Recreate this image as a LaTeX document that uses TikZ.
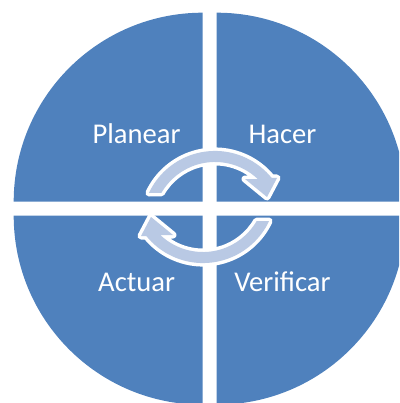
\documentclass[tikz,border=0pt]{standalone}
\usepackage{fontspec}
\setmainfont{Carlito}
\definecolor{quadblue}{RGB}{79,129,189}
\definecolor{arrowfill}{RGB}{185,201,228}
% curved cycle arrow (upper one); the lower one is the same shape turned half a turn
\newcommand{\cyclearrowshape}{%
  (148.9,193) arc[start angle=-154.9, end angle=-39.1, radius=73]
  -- (277,178) -- (267,197) -- (245,179) -- (257.7,179)
  arc[start angle=-46.5, end angle=-150, radius=62] -- cycle}
\begin{document}
\begin{tikzpicture}[x=1pt, y=-1pt,
  quadrant/.style={fill=quadblue},
  cyclearrow/.style={fill=arrowfill,
    preaction={draw=white, line width=7pt, line join=round}},
  stagetext/.style={text=white, font=\fontsize{28.6}{31}\selectfont,
    anchor=base, inner sep=0pt}]
\useasboundingbox (0,0) rectangle (399,403);
\clip (0,0) rectangle (399,403);
% four quarter discs separated by white gaps
\fill[quadrant] (202.7,201.7) -- ++(-189,0) arc[start angle=180, end angle=270, radius=189] -- cycle;
\fill[quadrant] (216.7,201.7) -- ++(0,-189) arc[start angle=270, end angle=360, radius=189] -- cycle;
\fill[quadrant] (202.7,215.7) -- ++(0,189) arc[start angle=90, end angle=180, radius=189] -- cycle;
\fill[quadrant] (216.7,215.7) -- ++(189,0) arc[start angle=0, end angle=90, radius=189] -- cycle;
% stage names
\node[stagetext] (planear) at (136.5,144) {Planear};
\node[stagetext] (hacer) at (282.5,144) {Hacer};
\node[stagetext] (actuar) at (136.7,291) {Actuar};
\node[stagetext] (verificar) at (282.5,291) {Verificar};
% cycle arrows
\path[cyclearrow] \cyclearrowshape;
\begin{scope}[rotate around={180:(209,207)}]
  \path[cyclearrow] \cyclearrowshape;
\end{scope}
\end{tikzpicture}
\end{document}
